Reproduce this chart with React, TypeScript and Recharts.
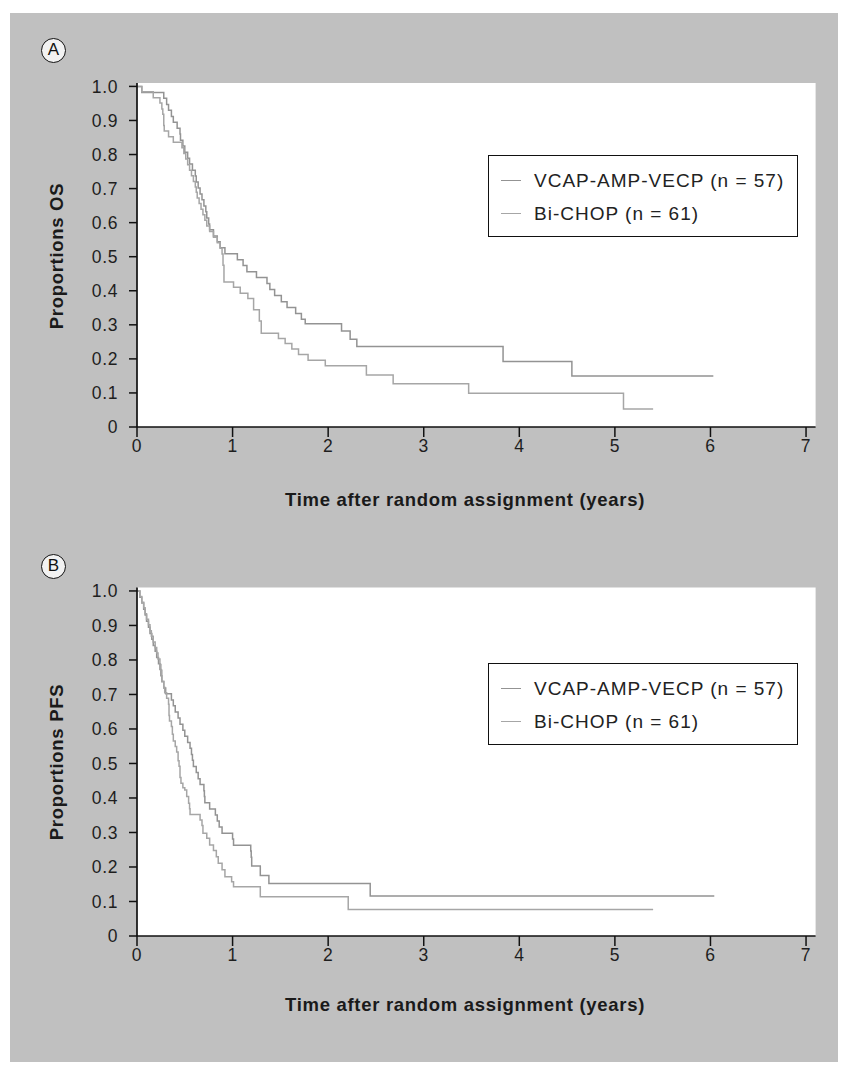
import React from 'react';
import { LineChart, Line, XAxis, YAxis, CartesianGrid, Legend } from 'recharts';

const xTicks = [0, 1, 2, 3, 4, 5, 6, 7];
const yTicks = [0, 0.1, 0.2, 0.3, 0.4, 0.5, 0.6, 0.7, 0.8, 0.9, 1.0];
const seriesNames = ['VCAP-AMP-VECP (n = 57)', 'Bi-CHOP (n = 61)'];
const xTitle = 'Time after random assignment (years)';

// Panel A: overall survival (time in years, proportion)
const osVcap: [number, number][] = [
  [0, 1], [0.05, 0.982], [0.28, 0.965], [0.31, 0.947], [0.33, 0.93], [0.36, 0.912], [0.38, 0.895],
  [0.42, 0.877], [0.45, 0.86], [0.455, 0.842], [0.48, 0.825], [0.5, 0.807], [0.53, 0.789], [0.55, 0.772],
  [0.58, 0.754], [0.61, 0.737], [0.62, 0.719], [0.64, 0.702], [0.66, 0.684], [0.68, 0.667], [0.7, 0.649],
  [0.72, 0.632], [0.73, 0.614], [0.75, 0.596], [0.76, 0.579], [0.8, 0.561], [0.84, 0.544], [0.87, 0.526],
  [0.92, 0.509], [1.05, 0.491], [1.11, 0.474], [1.15, 0.456], [1.25, 0.439], [1.36, 0.421], [1.39, 0.404],
  [1.44, 0.386], [1.51, 0.368], [1.57, 0.351], [1.66, 0.333], [1.72, 0.316], [1.76, 0.303], [2.14, 0.282],
  [2.23, 0.258], [2.3, 0.236], [3.83, 0.192], [4.55, 0.15], [6.03, 0.15],
];
const osBichop: [number, number][] = [
  [0, 1], [0.05, 0.984], [0.17, 0.967], [0.24, 0.951], [0.26, 0.934], [0.27, 0.918], [0.28, 0.885],
  [0.285, 0.869], [0.33, 0.852], [0.38, 0.836], [0.47, 0.82], [0.49, 0.803], [0.51, 0.787], [0.53, 0.77],
  [0.55, 0.754], [0.57, 0.738], [0.59, 0.721], [0.61, 0.705], [0.62, 0.689], [0.63, 0.672], [0.65, 0.656],
  [0.67, 0.639], [0.69, 0.623], [0.71, 0.607], [0.73, 0.59], [0.76, 0.574], [0.8, 0.557], [0.84, 0.541],
  [0.87, 0.525], [0.89, 0.508], [0.9, 0.475], [0.91, 0.426], [1.01, 0.41], [1.08, 0.393], [1.16, 0.377],
  [1.22, 0.344], [1.28, 0.311], [1.3, 0.275], [1.48, 0.26], [1.55, 0.245], [1.62, 0.229], [1.69, 0.213],
  [1.79, 0.196], [1.97, 0.18], [2.4, 0.153], [2.68, 0.127], [3.47, 0.099], [5.09, 0.053], [5.4, 0.053],
];

// Panel B: progression-free survival
const pfsVcap: [number, number][] = [
  [0, 1], [0.03, 0.982], [0.05, 0.965], [0.07, 0.947], [0.085, 0.93], [0.1, 0.912], [0.12, 0.895],
  [0.136, 0.877], [0.155, 0.86], [0.17, 0.842], [0.19, 0.825], [0.206, 0.807], [0.225, 0.789], [0.24, 0.772],
  [0.25, 0.754], [0.26, 0.737], [0.28, 0.719], [0.3, 0.702], [0.36, 0.684], [0.38, 0.667], [0.4, 0.649],
  [0.43, 0.632], [0.45, 0.614], [0.48, 0.596], [0.5, 0.579], [0.53, 0.561], [0.555, 0.544], [0.57, 0.526],
  [0.58, 0.509], [0.59, 0.491], [0.62, 0.474], [0.64, 0.456], [0.66, 0.439], [0.7, 0.421], [0.705, 0.404],
  [0.71, 0.386], [0.76, 0.368], [0.82, 0.351], [0.84, 0.333], [0.86, 0.316], [0.89, 0.298], [1.0, 0.281],
  [1.01, 0.263], [1.19, 0.246], [1.195, 0.228], [1.2, 0.203], [1.29, 0.175], [1.38, 0.152], [2.44, 0.116],
  [6.04, 0.116],
];
const pfsBichop: [number, number][] = [
  [0, 1], [0.03, 0.984], [0.05, 0.967], [0.07, 0.951], [0.085, 0.934], [0.1, 0.918], [0.12, 0.902],
  [0.136, 0.885], [0.15, 0.869], [0.17, 0.852], [0.19, 0.836], [0.206, 0.82], [0.22, 0.803], [0.24, 0.787],
  [0.25, 0.77], [0.26, 0.738], [0.28, 0.721], [0.29, 0.705], [0.31, 0.689], [0.33, 0.672], [0.335, 0.639],
  [0.34, 0.623], [0.36, 0.607], [0.37, 0.585], [0.38, 0.565], [0.4, 0.549], [0.415, 0.533], [0.43, 0.508],
  [0.44, 0.492], [0.45, 0.459], [0.46, 0.443], [0.48, 0.43], [0.5, 0.423], [0.52, 0.404], [0.54, 0.385],
  [0.55, 0.369], [0.555, 0.352], [0.66, 0.336], [0.68, 0.32], [0.69, 0.298], [0.73, 0.283], [0.76, 0.264],
  [0.8, 0.248], [0.83, 0.23], [0.85, 0.211], [0.89, 0.192], [0.92, 0.172], [0.99, 0.157], [1.01, 0.143],
  [1.29, 0.114], [2.21, 0.077], [5.4, 0.077],
];

const FONT = '"Liberation Sans", Arial, Helvetica, sans-serif';
const COLORS = ['#939393', '#a6a6a6'];

const toRows = (pts: [number, number][]) => pts.map(([t, s]) => ({ t, s }));

const LegendBox = () => (
  <div
    style={{
      width: 310,
      height: 82,
      border: '1.5px solid #111',
      boxSizing: 'border-box',
      background: '#fff',
      position: 'relative',
      fontFamily: FONT,
      fontSize: 19,
      letterSpacing: 1,
      color: '#222',
    }}
  >
    {seriesNames.map((name, i) => (
      <div key={name} style={{ position: 'absolute', left: 0, top: i === 0 ? 13 : 46, height: 24, width: '100%' }}>
        <div style={{ position: 'absolute', left: 12, top: 11, width: 20, borderTop: `1.5px solid ${COLORS[i]}` }} />
        <div style={{ position: 'absolute', left: 45, top: 0, lineHeight: '24px', whiteSpace: 'nowrap' }}>{name}</div>
      </div>
    ))}
  </div>
);

type PanelProps = {
  top: number;
  height: number;
  marginTop: number;
  vcap: [number, number][];
  bichop: [number, number][];
  legendTop: number;
};

const tickStyle = { fill: '#1e1e1e', fontSize: 17.5, fontFamily: FONT, letterSpacing: 0.6 };

const Panel = ({ top, height, marginTop, vcap, bichop, legendTop }: PanelProps) => (
  <div style={{ position: 'absolute', left: 0, top }}>
    <LineChart width={846} height={height} margin={{ top: marginTop, right: 30.4, left: 77, bottom: 0 }}>
      <CartesianGrid horizontal={false} vertical={false} fill="#ffffff" stroke="none" />
      <XAxis
        type="number"
        dataKey="t"
        domain={[0, 7.1]}
        ticks={xTicks}
        allowDataOverflow
        height={30}
        tickSize={10}
        tickMargin={3}
        axisLine={{ stroke: '#111', strokeWidth: 1.7 }}
        tickLine={{ stroke: '#111', strokeWidth: 1.5 }}
        tick={tickStyle}
      />
      <YAxis
        type="number"
        domain={[0, 1.01]}
        ticks={yTicks}
        allowDataOverflow
        width={60}
        tickSize={8}
        tickMargin={11}
        tickFormatter={(v: number) => (v === 0 ? '0' : v.toFixed(1))}
        axisLine={{ stroke: '#111', strokeWidth: 1.7 }}
        tickLine={{ stroke: '#111', strokeWidth: 1.5 }}
        tick={tickStyle}
      />
      <Legend
        layout="vertical"
        align="center"
        verticalAlign="middle"
        wrapperStyle={{ left: 488, top: legendTop, width: 310 }}
        content={() => <LegendBox />}
      />
      <Line
        data={toRows(vcap)}
        dataKey="s"
        name={seriesNames[0]}
        type="stepAfter"
        dot={false}
        stroke={COLORS[0]}
        strokeWidth={1.5}
        isAnimationActive={false}
      />
      <Line
        data={toRows(bichop)}
        dataKey="s"
        name={seriesNames[1]}
        type="stepAfter"
        dot={false}
        stroke={COLORS[1]}
        strokeWidth={1.5}
        isAnimationActive={false}
      />
    </LineChart>
  </div>
);

const Circle = ({ letter, x, y }: { letter: string; x: number; y: number }) => (
  <div
    style={{
      position: 'absolute',
      left: x - 12,
      top: y - 12,
      width: 25,
      height: 25,
      borderRadius: '50%',
      border: '1.6px solid #111',
      boxSizing: 'border-box',
      background: '#f2f2f2',
      fontFamily: FONT,
      fontSize: 17,
      lineHeight: '22px',
      textAlign: 'center',
      color: '#111',
    }}
  >
    {letter}
  </div>
);

const Title = ({ text, x, y, rotate }: { text: string; x: number; y: number; rotate?: boolean }) => (
  <div
    style={{
      position: 'absolute',
      left: x,
      top: y,
      transform: `translate(-50%, -50%)${rotate ? ' rotate(-90deg)' : ''}`,
      fontFamily: FONT,
      fontWeight: 'bold',
      fontSize: 18.5,
      letterSpacing: 0.7,
      color: '#1a1a1a',
      whiteSpace: 'nowrap',
    }}
  >
    {text}
  </div>
);

export default function App() {
  return (
    <div style={{ position: 'absolute', left: 0, top: 0, width: 846, height: 1070, background: '#fff', overflow: 'hidden' }}>
      <div style={{ position: 'absolute', left: 10, top: 13, width: 828, height: 1049, background: '#c0c0c0' }} />
      <Circle letter="A" x={53} y={50} />
      <Circle letter="B" x={53} y={566} />
      <Panel top={0} height={457} marginTop={83} vcap={osVcap} bichop={osBichop} legendTop={155} />
      <Panel top={500} height={466} marginTop={87.5} vcap={pfsVcap} bichop={pfsBichop} legendTop={163} />
      <Title text="Proportions OS" x={57} y={256} rotate />
      <Title text="Proportions PFS" x={57} y={762} rotate />
      <Title text={xTitle} x={465} y={500} />
      <Title text={xTitle} x={465} y={1005} />
    </div>
  );
}
